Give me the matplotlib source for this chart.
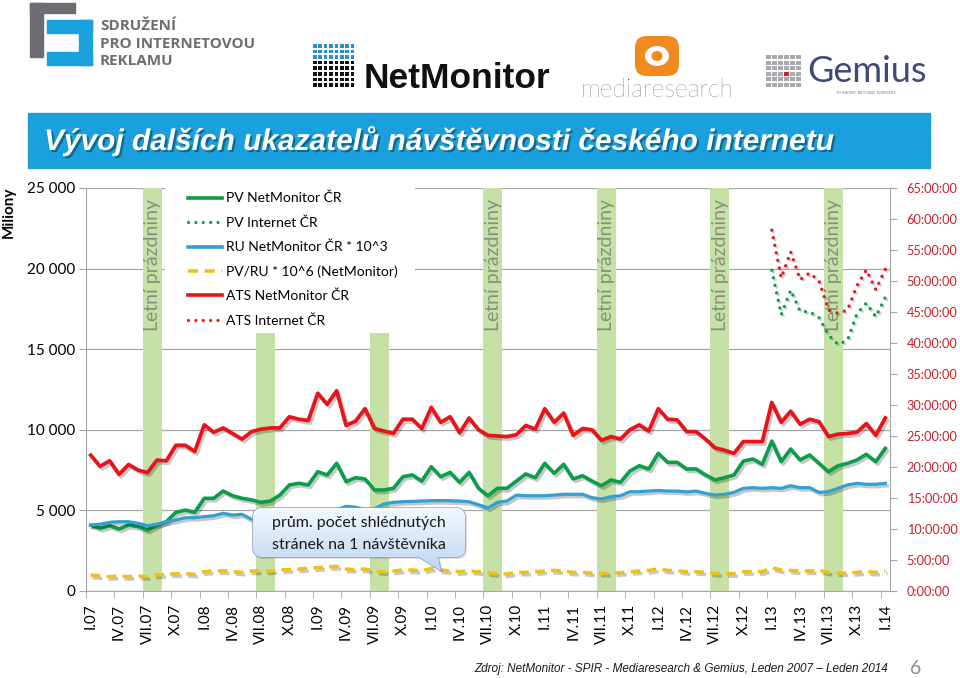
import numpy as np
import matplotlib
matplotlib.use("Agg")
import matplotlib.pyplot as plt
import matplotlib.patheffects as pe
from matplotlib.patches import Rectangle, Polygon, FancyBboxPatch, Ellipse
from matplotlib.lines import Line2D
from matplotlib import font_manager

installed = {f.name for f in font_manager.fontManager.ttflist}
HAS_NARROW = 'Liberation Sans Narrow' in installed
NARROW = 'Liberation Sans Narrow' if HAS_NARROW else 'Liberation Sans'

plt.rcParams['font.family'] = ['Lato', 'DejaVu Sans']

# ---- data (monthly, I.07 .. I.14) ----
# PV NetMonitor CR (millions of page views)
pv_nm = [4090, 3890, 4050, 3850, 4090, 3990, 3780, 4090, 4300, 4880,
         5020, 4880, 5750, 5750, 6200, 5910, 5750, 5650, 5500, 5580,
         5950, 6580, 6680, 6580, 7400, 7200, 7920, 6780, 7030, 6950,
         6270, 6270, 6370, 7090, 7200, 6820, 7710, 7090, 7360, 6740,
         7360, 6370, 5910, 6370, 6370, 6820, 7260, 7030, 7920, 7300,
         7860, 6950, 7150, 6820, 6530, 6890, 6740, 7440, 7770, 7570,
         8540, 7980, 7980, 7570, 7570, 7200, 6890, 7030, 7200, 8060,
         8190, 7860, 9300, 8020, 8810, 8130, 8440, 7920, 7400, 7770,
         7920, 8130, 8480, 8020, 8850]

# RU NetMonitor CR * 10^3
ru_nm = [4090, 4140, 4260, 4300, 4300, 4200, 4050, 4140, 4300, 4400,
         4550, 4550, 4610, 4670, 4820, 4710, 4760, 4450, 4400, 4500,
         4650, 4800, 4850, 4900, 4950, 5000, 5050, 5250, 5200, 5050,
         5100, 5400, 5500, 5540, 5560, 5580, 5600, 5610, 5600, 5580,
         5540, 5350, 5150, 5500, 5580, 5950, 5910, 5910, 5910, 5950,
         6000, 6000, 6000, 5790, 5710, 5850, 5910, 6160, 6160, 6200,
         6240, 6200, 6200, 6150, 6200, 6060, 5950, 6000, 6120, 6370,
         6410, 6370, 6410, 6370, 6530, 6410, 6410, 6120, 6160, 6370,
         6580, 6680, 6620, 6620, 6680]

# PV/RU * 10^6 (NetMonitor)
pv_ru = [992, 930, 889, 930, 889, 930, 889, 992, 1034, 1075,
         1075, 1034, 1199, 1241, 1261, 1199, 1158, 1241, 1241, 1241,
         1303, 1330, 1365, 1406, 1447, 1489, 1530, 1365, 1323, 1365,
         1241, 1199, 1241, 1303, 1303, 1241, 1406, 1303, 1241, 1199,
         1241, 1199, 1137, 1075, 1054, 1158, 1158, 1199, 1241, 1282,
         1241, 1158, 1158, 1117, 1096, 1096, 1137, 1199, 1241, 1282,
         1365, 1282, 1261, 1199, 1199, 1158, 1096, 1075, 1075, 1199,
         1199, 1199, 1447, 1303, 1282, 1241, 1241, 1282, 1158, 1117,
         1117, 1158, 1199, 1158, 1241]

# ATS NetMonitor CR (hours per user)
ats_nm = [21.9, 20.1, 21.0, 18.8, 20.4, 19.5, 19.1, 21.1, 21.0, 23.5,
          23.5, 22.5, 26.8, 25.6, 26.3, 25.4, 24.5, 25.7, 26.1, 26.3,
          26.3, 28.1, 27.7, 27.5, 31.9, 30.1, 32.3, 26.7, 27.4, 29.4,
          26.2, 25.8, 25.4, 27.7, 27.7, 26.2, 29.6, 27.2, 28.1, 25.5,
          27.9, 26.0, 25.1, 25.0, 24.9, 25.2, 26.7, 26.1, 29.4, 27.2,
          28.7, 25.1, 26.2, 26.0, 24.3, 24.9, 24.5, 26.0, 26.8, 25.8,
          29.4, 27.7, 27.6, 25.7, 25.7, 24.5, 23.1, 22.7, 22.2, 24.1,
          24.1, 24.1, 30.4, 27.2, 29.0, 26.9, 27.7, 27.3, 24.9, 25.3,
          25.4, 25.6, 27.0, 25.1, 27.9]

# Internet CR series, available from I.13 (index 72)
internet_start = 72
pv_internet = [19900, 17150, 18670, 17350, 17320, 16950, 15870, 15300,
               15550, 17200, 17860, 17010, 18220]
ats_internet = [58.2, 50.5, 54.7, 50.2, 51.3, 50.0, 45.3, 44.8,
                45.3, 49.2, 51.8, 48.6, 51.9]

# summer holidays (VII + VIII)
holiday_start = [6, 18, 30, 42, 54, 66, 78]
holiday_height = [25000, 16000, 16000, 25000, 25000, 25000, 25000]
holiday_labeled = [True, False, False, True, True, True, True]

xtick_pos = list(range(0, 85, 3))
xtick_labels = ['I.07', 'IV.07', 'VII.07', 'X.07', 'I.08', 'IV.08', 'VII.08', 'X.08',
                'I.09', 'IV.09', 'VII.09', 'X.09', 'I.10', 'IV.10', 'VII.10', 'X.10',
                'I.11', 'IV.11', 'VII.11', 'X.11', 'I.12', 'IV.12', 'VII.12', 'X.12',
                'I.13', 'IV.13', 'VII.13', 'X.13', 'I.14']
left_ticks = [0, 5000, 10000, 15000, 20000, 25000]
right_ticks = list(range(0, 70, 5))

labels = ['PV NetMonitor ČR', 'PV Internet ČR', 'RU NetMonitor ČR * 10^3',
          'PV/RU * 10^6 (NetMonitor)', 'ATS NetMonitor ČR', 'ATS Internet ČR']

GREEN = '#0a9e4a'
BLUE = '#31a0d3'
YELLOW = '#f2c014'
RED = '#e8141b'
BAR = '#c6e1a6'
AXRED = '#c8202a'
GRID = '#a6a6a6'

W, H = 960, 678
fig = plt.figure(figsize=(W / 100, H / 100), dpi=100)
fig.patch.set_facecolor('white')


def fx(x):
    return x / W


def fy(y):
    return 1 - y / H


ax = fig.add_axes([fx(86), fy(591), (890 - 86) / W, (591 - 188) / H])
ax.set_xlim(-0.5, 84.5)
ax.set_ylim(0, 25000)
ax.set_axisbelow(True)
ax.yaxis.grid(True, color=GRID, lw=0.9)

x = np.arange(len(pv_nm))
xi = np.arange(internet_start, internet_start + len(pv_internet))
shadow = [pe.SimpleLineShadow(offset=(1.5, -1.8), alpha=0.22), pe.Normal()]
dot_shadow = [pe.SimpleLineShadow(offset=(1.2, -1.2), alpha=0.18), pe.Normal()]

# holidays
ax.bar(np.array(holiday_start) + 0.5, holiday_height, width=2, color=BAR, zorder=1)
for s, lab in zip(holiday_start, holiday_labeled):
    if lab:
        ax.text(s + 0.55, 16150, 'Letní prázdniny', rotation=90, ha='center', va='bottom',
                fontsize=14, color='#87907f', zorder=1.2)

# white legend background
ax.add_patch(Rectangle((7.9, 16150), 26.4, 9000, facecolor='white', edgecolor='none', zorder=0.8))

ax.plot(x, pv_nm, color=GREEN, lw=2.6, path_effects=shadow, zorder=3)
ax.plot(xi, pv_internet, color=GREEN, lw=2.4, ls=(0, (0.01, 2.3)), dash_capstyle='round',
        path_effects=dot_shadow, zorder=3)
ax.plot(x, ru_nm, color=BLUE, lw=2.3, path_effects=shadow, zorder=3)
ax.plot(x, pv_ru, color=YELLOW, lw=2.5, ls=(0, (2.8, 1.8)), path_effects=shadow, zorder=3)

ax.set_yticks(left_ticks)
ax.set_yticklabels([f'{v:,}'.replace(',', ' ') for v in left_ticks], fontsize=11)
ax.set_xticks(xtick_pos)
ax.set_xticklabels(xtick_labels, rotation=90, fontsize=11, va='top', ha='center')
ax.set_xticks(np.arange(-0.5, 85, 3), minor=True)
ax.tick_params(axis='x', which='major', length=0, pad=9)
ax.tick_params(axis='x', which='minor', length=5, color=GRID, direction='out')
ax.tick_params(axis='y', length=5, color=GRID, pad=3)
for sp in ['top', 'right']:
    ax.spines[sp].set_visible(False)
for sp in ['left', 'bottom']:
    ax.spines[sp].set_color(GRID)

ax2 = ax.twinx()
ax2.set_ylim(0, 65)
ax2.plot(x, ats_nm, color=RED, lw=2.7, path_effects=shadow, zorder=3)
ax2.plot(xi, ats_internet, color=RED, lw=2.4, ls=(0, (0.01, 2.3)), dash_capstyle='round',
         path_effects=dot_shadow, zorder=3)
ax2.set_yticks(right_ticks)
ax2.set_yticklabels([f'{h}:00:00' for h in right_ticks], fontsize=9.2, color=AXRED)
ax2.tick_params(axis='y', length=5, color=GRID, pad=7)
for sp in ['top', 'left', 'bottom']:
    ax2.spines[sp].set_visible(False)
ax2.spines['right'].set_color(GRID)

handles = [
    Line2D([], [], color=GREEN, lw=2.6),
    Line2D([], [], color=GREEN, lw=2.3, ls=(0, (0.01, 2.3)), dash_capstyle='round'),
    Line2D([], [], color=BLUE, lw=2.6),
    Line2D([], [], color=YELLOW, lw=2.6, ls=(0, (2.8, 1.8))),
    Line2D([], [], color=RED, lw=2.6),
    Line2D([], [], color=RED, lw=2.3, ls=(0, (0.01, 2.3)), dash_capstyle='round'),
]
ax2.legend(handles, labels, loc='upper left', bbox_to_anchor=(fx(188), fy(192)),
           bbox_transform=fig.transFigure, frameon=False, fontsize=10, borderpad=0,
           borderaxespad=0, handlelength=2.45, handletextpad=0.25, labelspacing=0.86)

# ---- overlay for slide decoration ----
ov = fig.add_axes([0, 0, 1, 1], zorder=10)
ov.patch.set_visible(False)
ov.axis('off')

# SPIR logo
GREY = '#6d6e71'
LBLUE = '#1ba1db'
for r in [(30, 3, 45, 10), (30, 3, 13, 54)]:
    ov.add_patch(Rectangle(r[:2], r[2], r[3], color=GREY))
for r in [(47, 20, 45, 13), (79, 20, 13, 45), (47, 52, 45, 13)]:
    ov.add_patch(Rectangle(r[:2], r[2], r[3], color=LBLUE))
for t, yy in [('SDRUŽENÍ', 26), ('PRO INTERNETOVOU', 44), ('REKLAMU', 61)]:
    ov.text(100, yy, t, fontsize=11, fontweight='bold', color=GREY, va='center', ha='left',
            family=['Open Sans', 'DejaVu Sans'])

# NetMonitor logo
for r in range(8):
    for c in range(8):
        col = '#2a8fd0' if r < 3 else '#111111'
        ov.add_patch(Rectangle((313 + c * 5.4, 44 + r * 5.6), 3.6, 3.6, color=col, lw=0))
ov.text(364, 88, 'NetMonitor', fontsize=28 if HAS_NARROW else 25.5, fontweight='bold',
        color='#111111', family=NARROW, va='baseline', ha='left')

# mediaresearch logo
ov.add_patch(FancyBboxPatch((635, 36), 44, 40, boxstyle='round,pad=0,rounding_size=12',
                            facecolor='#f08a1c', edgecolor='none'))
ov.add_patch(Ellipse((657, 56), 24, 20, facecolor='white', edgecolor='none'))
ov.add_patch(Ellipse((657, 56), 11, 10, facecolor='#f08a1c', edgecolor='none'))
ov.text(657, 90, 'mediaresearch', fontsize=18, fontweight='light', color='#3a3a3a',
        ha='center', va='center')

# Gemius logo
for r in range(6):
    for c in range(6):
        col = '#d42027' if (r, c) == (3, 3) else '#a7a9ac'
        ov.add_patch(Rectangle((766 + c * 6, 55 + r * 5.5), 4.5, 4.2, color=col, lw=0))
ov.text(807, 82, 'Gemius', fontsize=26, color='#3d4b7c', ha='left', va='baseline')
ov.text(866, 93, 'THINKING  BEYOND  BORDERS', fontsize=3, color='#808080', ha='center', va='center')

# title bar
ov.add_patch(Rectangle((28, 113), 902, 55, color='#1aa0dc'))
ov.text(44, 141, 'Vývoj dalších ukazatelů návštěvnosti českého internetu',
        fontsize=23 if HAS_NARROW else 21.5, fontweight='bold', fontstyle='italic',
        color='white', family=NARROW, va='center', ha='left',
        path_effects=[pe.withSimplePatchShadow(offset=(1.5, -1.5), shadow_rgbFace='black', alpha=0.35)])

ov.text(9, 212, 'Miliony', rotation=90, fontsize=11, fontweight='bold', ha='center', va='center')

# callout
def rounded_box(x0, y0, x1, y1, r, tail):
    pts = []
    for cx, cy, a0 in [(x1 - r, y0 + r, -90), (x1 - r, y1 - r, 0), (x0 + r, y1 - r, 90), (x0 + r, y0 + r, 180)]:
        for a in np.linspace(a0, a0 + 90, 8):
            pts.append((cx + r * np.cos(np.radians(a)), cy + r * np.sin(np.radians(a))))
        if a0 == 0:
            pts.extend(tail)
    return pts


tail = [(438, 557), (441, 571), (419, 557)]
pts = rounded_box(253, 508, 465, 557, 8, tail)
ov.add_patch(Polygon([(p[0] + 2, p[1] + 2) for p in pts], closed=True, facecolor='black',
                     alpha=0.12, edgecolor='none'))
poly = Polygon(pts, closed=True, facecolor='none', edgecolor='#7f9dc6', lw=1.0)
grad = np.linspace(0, 1, 64)[:, None]
cmap = matplotlib.colors.LinearSegmentedColormap.from_list('cb', ['#f3f8fe', '#bdd6f2'])
im = ov.imshow(grad, cmap=cmap, extent=(253, 465, 572, 508), aspect='auto', zorder=2)
ov.add_patch(poly)
im.set_clip_path(poly)
ov.text(359, 523, 'prům. počet shlédnutých', fontsize=11.5, ha='center', va='center', color='#1a1a1a', zorder=3)
ov.text(359, 545, 'stránek na 1 návštěvníka', fontsize=11.5, ha='center', va='center', color='#1a1a1a', zorder=3)

ov.text(888, 669, 'Zdroj: NetMonitor - SPIR - Mediaresearch & Gemius, Leden 2007 – Leden 2014',
        fontsize=10 if HAS_NARROW else 8.5, fontstyle='italic', family=NARROW,
        ha='right', va='center', color='#1a1a1a')
ov.text(916, 669, '6', fontsize=14, color='#8c8c8c', ha='center', va='center')

ov.set_xlim(0, W)
ov.set_ylim(H, 0)

fig.savefig('out.png', dpi=100)
